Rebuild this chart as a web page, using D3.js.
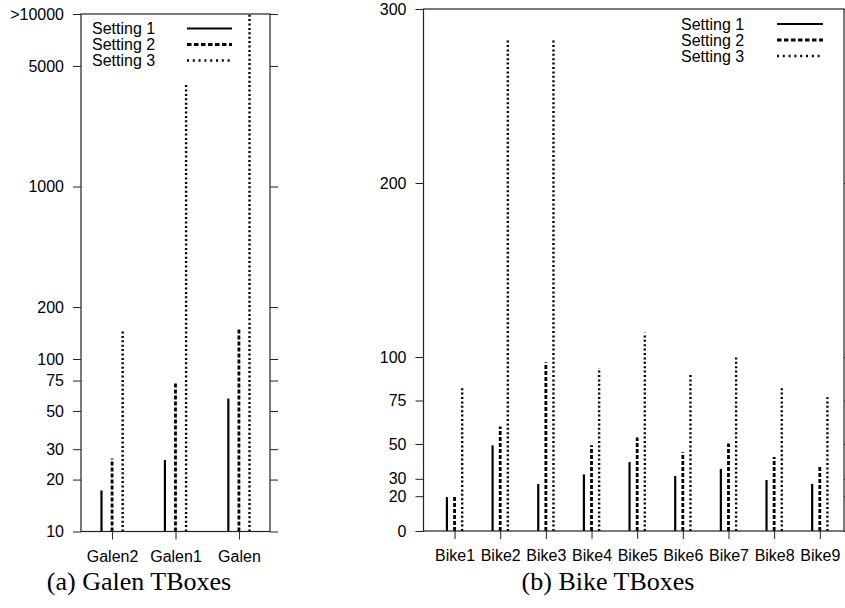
<!DOCTYPE html>
<html>
<head>
<meta charset="utf-8">
<script src="https://cdn.jsdelivr.net/npm/d3@7"></script>
<style>
body{margin:0;background:#fff}
svg{display:block}
text{font-family:"Liberation Sans",Arial,sans-serif;font-size:16px;fill:#000}
.caption{font-family:"Liberation Serif","Times New Roman",serif;font-size:26px}
</style>
</head>
<body>
<div id="chart"></div>
<script>
// series names
var settings = ["Setting 1", "Setting 2", "Setting 3"]

// (a) Galen TBoxes, log axis
var galenCats = ["Galen2", "Galen1", "Galen"]
var galenS1 = [17.3, 26, 59]
var galenS2 = [26.5, 73, 151]
var galenS3 = [149, 3980, 10000] // last one is ">10000", drawn to the top
var galenTicks = [10, 20, 30, 50, 75, 100, 200, 1000, 5000, 10000]
var galenTickLabels = ["10", "20", "30", "50", "75", "100", "200", "1000", "5000", ">10000"]

// (b) Bike TBoxes, linear axis
var bikeCats = ["Bike1", "Bike2", "Bike3", "Bike4", "Bike5", "Bike6", "Bike7", "Bike8", "Bike9"]
var bikeS1 = [19.5, 49.2, 27, 32.5, 39.6, 31.6, 35.7, 29.3, 27.1]
var bikeS2 = [20.6, 60.1, 97, 49.3, 53.8, 45.2, 50.3, 42.5, 37.9]
var bikeS3 = [83.2, 283, 282, 93.7, 114, 90.8, 101, 83.2, 76.9]
var bikeTicks = [0, 20, 30, 50, 75, 100, 200, 300]

var lineStyles = [
    {w: 2.2, dash: null, key: null},
    {w: 2.8, dash: "4,2", key: "4.5,2.5"},
    {w: 2.4, dash: "2,2.4", key: "2,3.8"}
]

var svg = d3.select("#chart").append("svg")
    .attr("width", 845)
    .attr("height", 608)

function Panel(o){
    var x = d3.scaleLinear().domain(o.xdom).range([o.l, o.r])
    var y = o.y.range([o.b, o.t]).clamp(true)
    var g = svg.append("g")
    var off = 0.167

    // bars
    var series = [o.s1, o.s2, o.s3]
    series.forEach(function(vals, si){
	var st = lineStyles[si]
	g.selectAll("line.s" + si)
	    .data(vals)
	    .enter().append("line")
	    .attr("class", "s" + si)
	    .attr("x1", function(d, i){return x(i + (si - 1) * off)})
	    .attr("x2", function(d, i){return x(i + (si - 1) * off)})
	    .attr("y1", y(o.base))
	    .attr("y2", function(d){return y(d)})
	    .style("stroke", "#000")
	    .style("stroke-width", st.w)
	    .style("stroke-dasharray", st.dash)
    })

    // y axis left with labels, right mirror ticks
    var ya = d3.axisLeft(y).tickValues(o.ticks).tickSize(8).tickPadding(9)
	.tickFormat(function(d, i){return o.tickLabels[i]})
    var yl = g.append("g").attr("transform", "translate(" + o.l + ",0)").call(ya)
    var yr = g.append("g").attr("transform", "translate(" + o.r + ",0)")
	.call(d3.axisRight(y).tickValues(o.ticks).tickSize(8).tickFormat(""))

    // x axis ticks + labels
    var xa = d3.axisBottom(x).tickValues(d3.range(o.cats.length)).tickSize(8).tickPadding(11)
	.tickFormat(function(d){return o.cats[d]})
    var xl = g.append("g").attr("transform", "translate(0," + o.b + ")").call(xa)

    ;[yl, yr, xl].forEach(function(a){
	a.select(".domain").remove()
	a.selectAll("line").style("stroke", "#222").style("stroke-width", 1)
	a.selectAll("text").attr("fill", "#000")
	    .style("font-family", "Liberation Sans, Arial, sans-serif").style("font-size", "16px")
    })

    // frame
    g.append("rect")
	.attr("x", o.l).attr("y", o.t)
	.attr("width", o.r - o.l).attr("height", o.b - o.t)
	.style("fill", "none").style("stroke", "#222").style("stroke-width", 1.2)

    // key
    settings.forEach(function(s, i){
	var ry = o.key.y + i * 16
	g.append("text").attr("x", o.key.tx).attr("y", ry).attr("dy", "0.35em").text(s)
	g.append("line")
	    .attr("x1", o.key.x1).attr("x2", o.key.x2)
	    .attr("y1", ry).attr("y2", ry)
	    .style("stroke", "#000")
	    .style("stroke-width", lineStyles[i].w)
	    .style("stroke-dasharray", lineStyles[i].key)
    })

    svg.append("text").attr("class", "caption")
	.attr("x", o.capx).attr("y", 590)
	.attr("text-anchor", "middle")
	.text(o.caption)
}

Panel({
    l: 81, r: 270, t: 14, b: 531.5,
    xdom: [-0.49, 2.49],
    y: d3.scaleLog().domain([10, 10000]),
    base: 10,
    cats: galenCats, s1: galenS1, s2: galenS2, s3: galenS3,
    ticks: galenTicks, tickLabels: galenTickLabels,
    key: {tx: 92, x1: 187, x2: 232, y: 28.5},
    caption: "(a) Galen TBoxes", capx: 139
})

Panel({
    l: 423.5, r: 844, t: 9, b: 531,
    xdom: [-0.68, 8.53],
    y: d3.scaleLinear().domain([0, 300]),
    base: 0,
    cats: bikeCats, s1: bikeS1, s2: bikeS2, s3: bikeS3,
    ticks: bikeTicks, tickLabels: bikeTicks.map(String),
    key: {tx: 681, x1: 777, x2: 823, y: 24},
    caption: "(b) Bike TBoxes", capx: 608
})
</script>
</body>
</html>
